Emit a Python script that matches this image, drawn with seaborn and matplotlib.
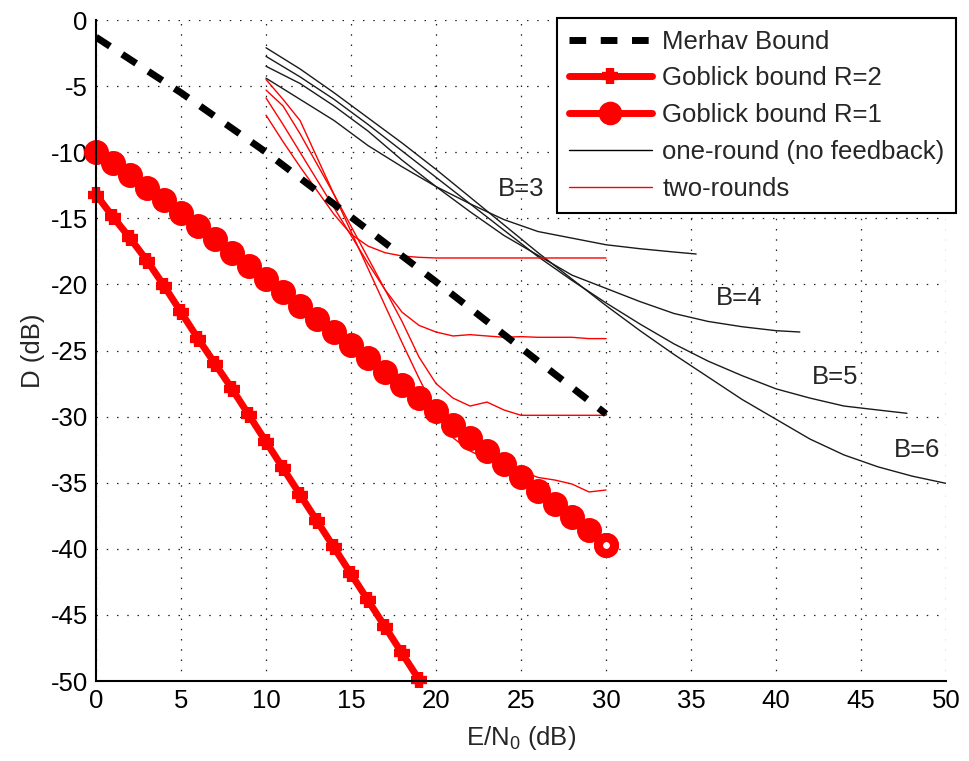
import matplotlib
matplotlib.use("Agg")
import matplotlib.pyplot as plt
import seaborn as sns
from matplotlib.lines import Line2D

sns.set_style("white")
plt.rcParams["font.family"] = ["Liberation Sans", "DejaVu Sans"]
plt.rcParams["mathtext.fontset"] = "custom"
plt.rcParams["mathtext.rm"] = "Liberation Sans"
plt.rcParams["mathtext.it"] = "Liberation Sans:italic"
plt.rcParams["axes.unicode_minus"] = False

# ---------------- data ----------------
merhav_x = [0, 5, 10, 15, 20, 25, 30]
merhav_d = [-1.3, -5.5, -10.0, -14.9, -19.8, -24.8, -29.8]

gob1_x = list(range(0, 31))
gob1_d = [-10.0, -10.8, -11.7, -12.7, -13.6, -14.6, -15.6, -16.6, -17.6, -18.6,
          -19.6, -20.6, -21.6, -22.6, -23.6, -24.6, -25.6, -26.6, -27.6, -28.6,
          -29.6, -30.6, -31.6, -32.6, -33.6, -34.6, -35.6, -36.6, -37.6, -38.6, -39.7]

gob2_x = list(range(0, 20))
gob2_d = [-13.2, -14.9, -16.5, -18.2, -20.1, -22.1, -24.1, -26.0, -27.9, -29.9,
          -31.9, -33.9, -35.9, -37.9, -39.9, -41.9, -43.9, -45.9, -47.9, -49.9]

# one-round (no feedback), B = 3..6
one_b3_x = [10, 12, 14, 16, 18, 20, 22, 24, 26, 28, 30, 32, 34, 35.3]
one_b3_d = [-4.4, -6.0, -7.6, -9.5, -11.1, -12.6, -13.9, -15.1, -16.0, -16.5, -17.0, -17.3, -17.55, -17.7]
one_b4_x = [10, 12, 14, 16, 18, 20, 22, 24, 26, 28, 30, 32, 34, 36, 38, 40, 41.4]
one_b4_d = [-3.5, -4.8, -6.5, -8.4, -10.6, -12.6, -14.5, -16.3, -17.8, -19.3, -20.3, -21.3, -22.2, -22.8, -23.2, -23.5, -23.6]
one_b5_x = [10, 12, 14, 16, 18, 20, 22, 24, 26, 28, 30, 32, 34, 36, 38, 40, 42, 44, 46, 47.7]
one_b5_d = [-2.75, -4.3, -6.0, -7.9, -9.9, -11.9, -13.9, -15.9, -17.9, -19.7, -21.4, -23.0, -24.5, -25.8, -26.9, -27.9, -28.6, -29.2, -29.5, -29.75]
one_b6_x = [10, 12, 14, 16, 18, 20, 22, 24, 26, 28, 30, 32, 34, 36, 38, 40, 42, 44, 46, 48, 50]
one_b6_d = [-2.1, -3.7, -5.5, -7.4, -9.3, -11.3, -13.4, -15.5, -17.6, -19.6, -21.6, -23.5, -25.3, -27.0, -28.7, -30.2, -31.7, -32.9, -33.8, -34.5, -35.05]

# two-rounds, B = 3..6
two_x = list(range(10, 31))
two_b3_d = [-7.2, -9.2, -11.1, -12.9, -14.7, -16.2, -17.1, -17.6, -17.85, -17.95, -18.0,
            -18.0, -18.0, -18.0, -18.0, -18.0, -18.0, -18.0, -18.0, -18.0, -18.0]
two_b4_d = [-5.9, -7.9, -10.0, -12.1, -14.2, -16.3, -18.4, -20.4, -22.1, -23.1, -23.6,
            -23.9, -23.8, -23.9, -24.0, -23.95, -24.0, -24.0, -24.0, -24.1, -24.1]
two_b5_d = [-5.3, -6.5, -8.6, -10.9, -13.2, -15.6, -18.0, -20.4, -22.8, -25.5, -27.5,
            -28.6, -29.2, -28.9, -29.5, -29.9, -29.9, -29.9, -29.9, -29.9, -29.9]
two_b6_d = [-4.5, -6.0, -7.6, -10.4, -13.2, -16.0, -18.8, -21.6, -24.4, -27.1, -29.7,
            -31.6, -32.6, -33.2, -33.7, -34.1, -34.6, -34.8, -35.1, -35.7, -35.55]

x_ticks = list(range(0, 51, 5))
y_ticks = list(range(-50, 1, 5))

legend_labels = ["Merhav Bound", "Goblick bound R=2", "Goblick bound R=1",
                 "one-round (no feedback)", "two-rounds"]
b_labels = ["B=3", "B=4", "B=5", "B=6"]

# ---------------- figure ----------------
fig = plt.figure(figsize=(9.69, 7.61), dpi=100)
ax = fig.add_axes([0.0991, 0.1051, 0.8772, 0.8686])

FS = 18.5

for xs, ds in [(one_b3_x, one_b3_d), (one_b4_x, one_b4_d),
               (one_b5_x, one_b5_d), (one_b6_x, one_b6_d)]:
    sns.lineplot(x=xs, y=ds, ax=ax, color="#1a1a1a", lw=1.0, sort=False)

for ds in [two_b3_d, two_b4_d, two_b5_d, two_b6_d]:
    sns.lineplot(x=two_x, y=ds, ax=ax, color="#ff0000", lw=1.0, sort=False)

sns.lineplot(x=merhav_x, y=merhav_d, ax=ax, color="black", lw=5.0, sort=False)
ax.lines[-1].set_dashes((2.4, 2.1))
ax.lines[-1].set_dash_capstyle("butt")

sns.lineplot(x=gob1_x, y=gob1_d, ax=ax, color="#ff0000", lw=5.0, sort=False,
             marker="o", markersize=14, markerfacecolor="#ff0000",
             markeredgecolor="#ff0000", markeredgewidth=4.0)
ax.lines[-1].set_clip_on(False)
# last marker of the R=1 bound is drawn as an open ring, as in the original
sns.lineplot(x=gob1_x[-1:], y=gob1_d[-1:], ax=ax, color="#ff0000", lw=0,
             marker="o", markersize=11.5, markerfacecolor="white",
             markeredgecolor="#ff0000", markeredgewidth=6.5)
ax.lines[-1].set_clip_on(False)

sns.lineplot(x=gob2_x, y=gob2_d, ax=ax, color="#ff0000", lw=5.0, sort=False,
             marker="+", markersize=11, markeredgecolor="#ff0000", markeredgewidth=6.0)
ax.lines[-1].set_clip_on(False)

ax.set_xlim(0, 50)
ax.set_ylim(-50, 0)
ax.set_xticks(x_ticks)
ax.set_yticks(y_ticks)
ax.tick_params(axis="both", direction="in", length=6, width=1.2, labelsize=FS,
               colors="black", pad=6)
for side in ["top", "right"]:
    ax.spines[side].set_visible(False)
for side in ["left", "bottom"]:
    ax.spines[side].set_color("black")
    ax.spines[side].set_linewidth(1.5)

ax.grid(True, color="#222222", lw=0.9, linestyle=(0, (1.2, 7.0)))
ax.set_axisbelow(True)

ax.set_xlabel("E/N$_0$ (dB)", fontsize=FS, labelpad=8)
ax.set_ylabel("D (dB)", fontsize=FS, labelpad=4)

# B labels
ax.text(25.0, -12.8, b_labels[0], fontsize=FS, ha="center", va="center")
ax.text(37.8, -21.0, b_labels[1], fontsize=FS, ha="center", va="center")
ax.text(43.5, -27.0, b_labels[2], fontsize=FS, ha="center", va="center")
ax.text(48.3, -32.5, b_labels[3], fontsize=FS, ha="center", va="center")

handles = [
    Line2D([], [], color="black", lw=5.0, dashes=(2.4, 2.1)),
    Line2D([], [], color="#ff0000", lw=5.0, marker="+", markersize=11, markeredgewidth=6.0),
    Line2D([], [], color="#ff0000", lw=5.0, marker="o", markersize=12, markeredgewidth=5.0,
           markerfacecolor="#ff0000"),
    Line2D([], [], color="black", lw=1.0),
    Line2D([], [], color="#ff0000", lw=1.0),
]
leg = ax.legend(handles, legend_labels, loc="upper right", bbox_to_anchor=(1.012, 1.003),
                borderaxespad=0, fontsize=FS, frameon=True, fancybox=False,
                edgecolor="black", framealpha=1, handlelength=3.25, handletextpad=0.4,
                labelspacing=0.5, borderpad=0.45)
leg.get_frame().set_linewidth(1.5)

fig.savefig("out.png", dpi=100)
